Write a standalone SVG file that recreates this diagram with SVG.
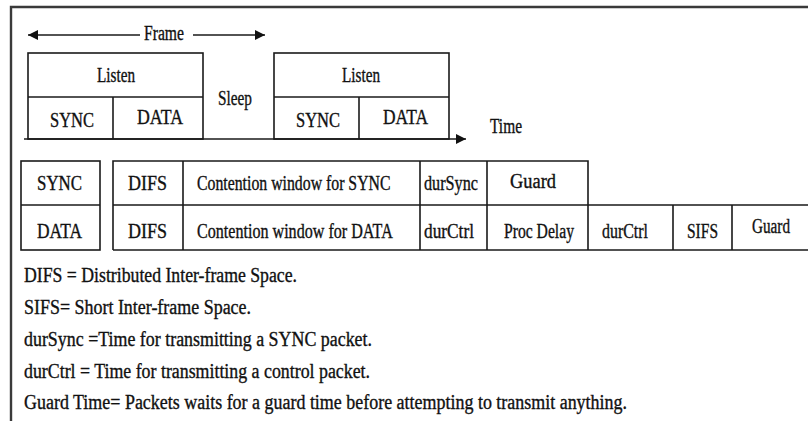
<svg xmlns="http://www.w3.org/2000/svg" width="808" height="421" viewBox="0 0 808 421">
  <defs>
    <style>
      text { font-family: 'Liberation Serif', 'DejaVu Serif', serif; font-size: 20px; fill: #111; stroke: #111; stroke-width: 0.35px; }
      .box { fill: none; stroke: #1a1a1a; stroke-width: 1.6; }
      .ln { stroke: #1a1a1a; stroke-width: 1.6; fill: none; }
      .border { stroke: #3a3a3a; stroke-width: 2.4; fill: none; }
    </style>
    <marker id="head" viewBox="0 0 10 10" refX="10" refY="5" markerWidth="10" markerHeight="10" markerUnits="userSpaceOnUse" orient="auto-start-reverse">
      <path d="M0,0 L10,5 L0,10 z" fill="#111"/>
    </marker>
  </defs>

  <rect width="808" height="421" fill="#fff"/>

  <!-- page frame: top and left rules only -->
  <path class="border" d="M11,421 V7 H808"/>

  <!-- connectors: frame span arrows and time axis -->
  <g id="connectors">
    <line class="ln" x1="140" y1="35" x2="28" y2="35" marker-end="url(#head)"/>
    <line class="ln" x1="193" y1="35" x2="265" y2="35" marker-end="url(#head)"/>
    <line class="ln" x1="24" y1="139" x2="466" y2="139" marker-end="url(#head)" stroke-width="2"/>
  </g>

  <text x="144" y="40" textLength="40" lengthAdjust="spacingAndGlyphs">Frame</text>
  <text x="490" y="133" textLength="32" lengthAdjust="spacingAndGlyphs">Time</text>

  <!-- first listen period -->
  <g id="listen1">
    <rect class="box" x="28" y="53" width="175" height="86"/>
    <line class="ln" x1="28" y1="97" x2="203" y2="97"/>
    <line class="ln" x1="113" y1="97" x2="113" y2="139"/>
    <text x="97" y="82" textLength="38" lengthAdjust="spacingAndGlyphs">Listen</text>
    <text x="50" y="127" textLength="44" lengthAdjust="spacingAndGlyphs">SYNC</text>
    <text x="137" y="124" textLength="46" lengthAdjust="spacingAndGlyphs">DATA</text>
  </g>

  <g id="sleep">
    <text x="218" y="105" textLength="34" lengthAdjust="spacingAndGlyphs">Sleep</text>
  </g>

  <!-- second listen period -->
  <g id="listen2">
    <rect class="box" x="274" y="53" width="175" height="86"/>
    <line class="ln" x1="274" y1="97" x2="449" y2="97"/>
    <line class="ln" x1="359" y1="97" x2="359" y2="139"/>
    <text x="342" y="82" textLength="38" lengthAdjust="spacingAndGlyphs">Listen</text>
    <text x="296" y="127" textLength="44" lengthAdjust="spacingAndGlyphs">SYNC</text>
    <text x="383" y="124" textLength="45" lengthAdjust="spacingAndGlyphs">DATA</text>
  </g>

  <!-- packet type labels -->
  <g id="types">
    <rect class="box" x="21" y="161" width="79" height="89"/>
    <line class="ln" x1="21" y1="205" x2="100" y2="205"/>
    <text x="37" y="190" textLength="45" lengthAdjust="spacingAndGlyphs">SYNC</text>
    <text x="37" y="238" textLength="45" lengthAdjust="spacingAndGlyphs">DATA</text>
  </g>

  <!-- SYNC period slots -->
  <g id="sync-row">
    <path class="ln" d="M113,250 V161 H588 V250 M183,161 V250 M420,161 V250 M487,161 V205"/>
    <text x="128" y="190" textLength="39" lengthAdjust="spacingAndGlyphs">DIFS</text>
    <text transform="translate(197,190) scale(0.79,1)">Contention window for SYNC</text>
    <text x="424" y="190" textLength="54" lengthAdjust="spacingAndGlyphs">durSync</text>
    <text x="510" y="188" textLength="46" lengthAdjust="spacingAndGlyphs">Guard</text>
  </g>

  <!-- DATA period slots -->
  <g id="data-row">
    <path class="ln" d="M113,205 H808 M113,250 H808 M487,205 V250 M673,205 V250 M732,205 V250"/>
    <text x="128" y="238" textLength="39" lengthAdjust="spacingAndGlyphs">DIFS</text>
    <text transform="translate(197,238) scale(0.805,1)">Contention window for DATA</text>
    <text x="424" y="238" textLength="50" lengthAdjust="spacingAndGlyphs">durCtrl</text>
    <text x="504" y="238" textLength="70" lengthAdjust="spacingAndGlyphs">Proc Delay</text>
    <text x="602" y="238" textLength="46" lengthAdjust="spacingAndGlyphs">durCtrl</text>
    <text x="687" y="238" textLength="31" lengthAdjust="spacingAndGlyphs">SIFS</text>
    <text x="752" y="233" textLength="38" lengthAdjust="spacingAndGlyphs">Guard</text>
  </g>

  <!-- abbreviations -->
  <g id="legend">
    <text x="24" y="282" textLength="273" lengthAdjust="spacingAndGlyphs">DIFS = Distributed Inter-frame Space.</text>
    <text x="24" y="314" textLength="227" lengthAdjust="spacingAndGlyphs">SIFS= Short Inter-frame Space.</text>
    <text x="24" y="346" textLength="348" lengthAdjust="spacingAndGlyphs">durSync =Time  for transmitting a SYNC  packet.</text>
    <text x="24" y="378" textLength="346" lengthAdjust="spacingAndGlyphs">durCtrl = Time for transmitting a control packet.</text>
    <text x="24" y="409" textLength="603" lengthAdjust="spacingAndGlyphs">Guard Time= Packets waits for a guard time before attempting to transmit anything.</text>
  </g>
</svg>
